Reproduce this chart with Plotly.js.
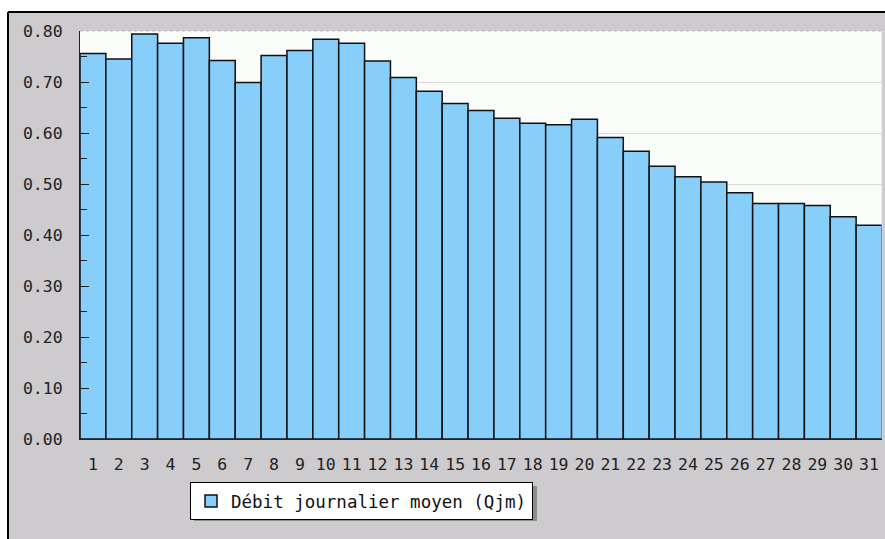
<!DOCTYPE html>
<html>
<head>
<meta charset="utf-8">
<script src="https://cdn.plot.ly/plotly-3.0.1.min.js"></script>
<style>html,body{margin:0;padding:0;background:#fff;}#chart{width:885px;height:539px;}</style>
</head>
<body>
<div id="chart"></div>
<script>
const days = ["1","2","3","4","5","6","7","8","9","10","11","12","13","14","15","16","17","18","19","20","21","22","23","24","25","26","27","28","29","30","31"];
const qjm = [0.756,0.745,0.794,0.776,0.787,0.742,0.699,0.752,0.762,0.784,0.776,0.741,0.709,0.682,0.658,0.644,0.629,0.619,0.616,0.627,0.591,0.564,0.535,0.514,0.504,0.483,0.462,0.462,0.458,0.436,0.419];
const seriesName = "Débit journalier moyen (Qjm)";
const yTickVals = [0,0.1,0.2,0.3,0.4,0.5,0.6,0.7,0.8];
const yTickText = ["0.00","0.10","0.20","0.30","0.40","0.50","0.60","0.70","0.80"];

const W = 885, H = 539;
const mL = 80, mR = 3, mT = 31, mB = 100;
const pw = W - mL - mR, ph = H - mT - mB;
const px = x => (x - mL) / pw;
const py = y => (H - mB - y) / ph;
const font = "DejaVu Sans Mono, monospace";

const trace = {
  type: "bar",
  x: days,
  y: qjm,
  name: seriesName,
  marker: {color: "#87CEFA", line: {color: "#111", width: 1.5}},
  showlegend: true,
  hoverinfo: "x+y"
};

const layout = {
  width: W, height: H,
  margin: {l: mL, r: mR, t: mT, b: mB, pad: 0},
  paper_bgcolor: "#cdcbce",
  plot_bgcolor: "#fafcfa",
  bargap: 0,
  font: {family: font, size: 16, color: "#222"},
  showlegend: true,
  legend: {
    x: px(190), y: py(482), xanchor: "left", yanchor: "top",
    bgcolor: "#ffffff", bordercolor: "#000", borderwidth: 1,
    font: {family: font, size: 17.5, color: "#111"},
    itemwidth: 30
  },
  xaxis: {
    type: "category",
    range: [-0.5, 30.5],
    showgrid: false,
    showline: true, linecolor: "#222", linewidth: 1,
    ticks: "", ticklabelstandoff: 10,
    tickfont: {family: font, size: 16.5, color: "#222"},
    zeroline: false, fixedrange: true
  },
  yaxis: {
    range: [0, 0.8],
    tickvals: yTickVals, ticktext: yTickText,
    ticks: "inside", ticklen: 9, tickcolor: "#222", tickwidth: 1,
    minor: {dtick: 0.05, ticks: "inside", ticklen: 7, tickcolor: "#222", showgrid: false},
    showgrid: true, gridcolor: "#d8d8d8", gridwidth: 1,
    showline: true, linecolor: "#222", linewidth: 1,
    ticklabelstandoff: 13,
    tickfont: {family: font, size: 16.5, color: "#222"},
    zeroline: false, fixedrange: true
  },
  shapes: [
    {type: "rect", xref: "paper", yref: "paper", x0: px(0), x1: px(W), y0: py(12), y1: py(0), fillcolor: "#ffffff", line: {width: 0}, layer: "below"},
    {type: "rect", xref: "paper", yref: "paper", x0: px(0), x1: px(8), y0: py(H), y1: py(0), fillcolor: "#ffffff", line: {width: 0}, layer: "below"},
    {type: "line", xref: "paper", yref: "paper", x0: px(8), x1: px(W), y0: py(12), y1: py(12), line: {color: "#000", width: 2}},
    {type: "line", xref: "paper", yref: "paper", x0: px(8), x1: px(8), y0: py(12), y1: py(H), line: {color: "#000", width: 2}},
    {type: "rect", xref: "paper", yref: "paper", x0: px(194), x1: px(537), y0: py(521), y1: py(486), fillcolor: "#8e8e8e", line: {width: 0}, layer: "below"},
    {type: "line", xref: "paper", yref: "paper", x0: 0, x1: 1, y0: 1, y1: 1, line: {color: "#bbbbbb", width: 1, dash: "dot"}},
    {type: "line", xref: "paper", yref: "paper", x0: 1, x1: 1, y0: 0, y1: 1, line: {color: "#d8d8d8", width: 1}}
  ]
};

Plotly.newPlot("chart", [trace], layout, {displayModeBar: false, staticPlot: true});
</script>
</body>
</html>
